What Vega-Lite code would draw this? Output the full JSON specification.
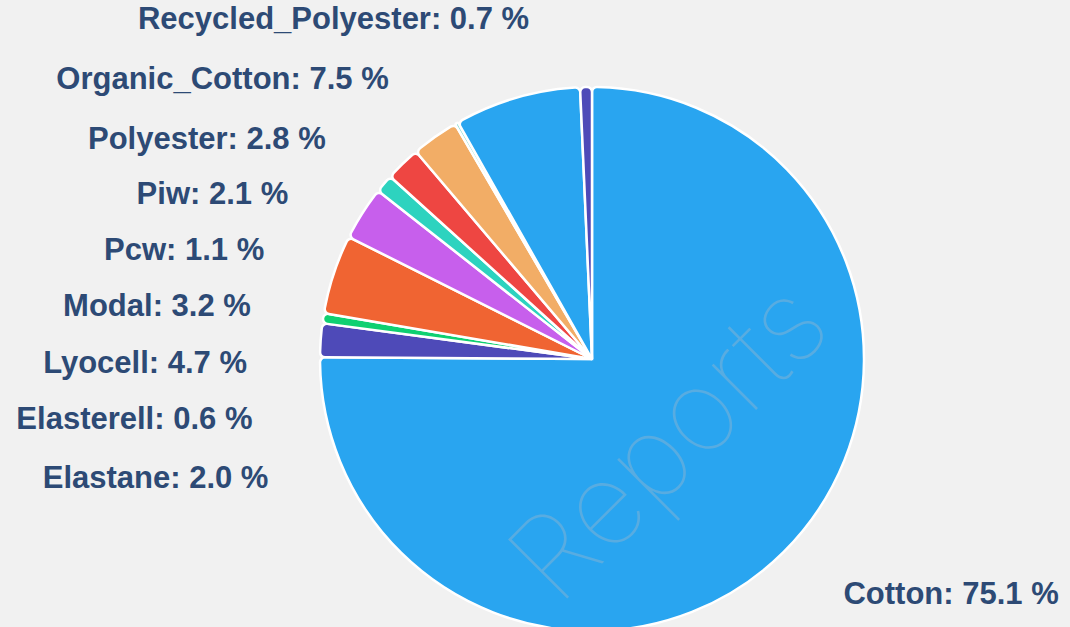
{
  "$schema": "https://vega.github.io/schema/vega-lite/v6.json",
  "width": 544,
  "height": 544,
  "autosize": {"type": "none"},
  "padding": {"left": 320, "top": 87, "right": 206, "bottom": 0},
  "background": "#f1f1f1",
  "config": {"view": {"stroke": null}},
  "data": {
    "values": [
      {"rank": 1, "name": "Cotton", "value": 75.1},
      {"rank": 2, "name": "Elastane", "value": 2.0},
      {"rank": 3, "name": "Elasterell", "value": 0.6},
      {"rank": 4, "name": "Lyocell", "value": 4.7},
      {"rank": 5, "name": "Modal", "value": 3.2},
      {"rank": 6, "name": "Pcw", "value": 1.1},
      {"rank": 7, "name": "Piw", "value": 2.1},
      {"rank": 8, "name": "Polyester", "value": 2.8},
      {"rank": 9, "name": "Other", "value": 0.2},
      {"rank": 10, "name": "Organic_Cotton", "value": 7.5},
      {"rank": 11, "name": "Recycled_Polyester", "value": 0.7}
    ]
  },
  "layer": [
    {
      "mark": {"type": "arc", "radius": 272, "stroke": "#ffffff", "strokeWidth": 2.5, "cornerRadius": 5},
      "encoding": {
        "theta": {"field": "value", "type": "quantitative", "stack": true},
        "order": {"field": "rank", "type": "quantitative", "sort": "ascending"},
        "color": {
          "field": "name",
          "type": "nominal",
          "legend": null,
          "scale": {
            "domain": ["Cotton", "Elastane", "Elasterell", "Lyocell", "Modal", "Pcw", "Piw", "Polyester", "Other", "Organic_Cotton", "Recycled_Polyester"],
            "range": ["#29a5f0", "#4e4ab8", "#0fd071", "#f06432", "#c75fec", "#2dd3bf", "#ee4642", "#f2ad66", "#86dcd3", "#29a5f0", "#4e4ab8"]
          }
        }
      }
    },
    {
      "mark": {
        "type": "text",
        "radius": 345,
        "font": "Liberation Sans",
        "fontSize": 31,
        "fontWeight": "bold",
        "fill": "#2d4a75",
        "baseline": "middle",
        "align": {"expr": "datum.name === 'Cotton' ? 'left' : 'right'"},
        "text": {"expr": "datum.name === 'Other' ? '' : datum.name + ': ' + format(datum.value, '.1f') + ' %'"}
      },
      "encoding": {
        "theta": {
          "field": "value",
          "type": "quantitative",
          "stack": true,
          "scale": {
            "domain": [0, 37.55, 76.1, 77.4, 80.05, 84.0, 86.15, 87.75, 90.2, 95.55, 99.65, 100],
            "range": [0, 2.325, 4.3581, 4.5344, 4.6984, 4.8625, 5.03, 5.2063, 5.4018, 5.6531, 6.1, 6.2]
          }
        },
        "order": {"field": "rank", "type": "quantitative", "sort": "ascending"},
        "detail": {"field": "name", "type": "nominal"}
      }
    },
    {
      "data": {"values": [{"word": "Reports"}]},
      "mark": {
        "type": "text",
        "radius": 117,
        "theta": 2.393,
        "angle": -45,
        "font": "Inter",
        "fontWeight": 100,
        "fontSize": 115,
        "fill": "#b0bac6",
        "opacity": 0.35,
        "align": "center",
        "baseline": "middle"
      },
      "encoding": {"text": {"field": "word"}}
    }
  ],
  "resolve": {"scale": {"theta": "independent"}}
}
